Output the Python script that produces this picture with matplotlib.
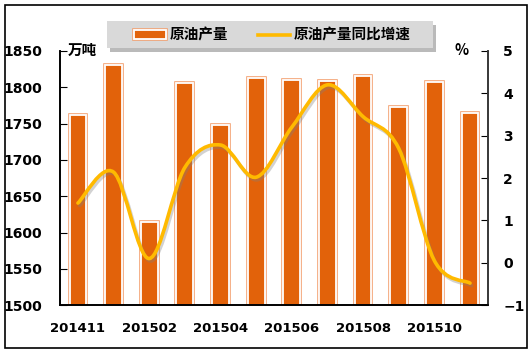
import numpy as np
import matplotlib.pyplot as plt
import matplotlib.patheffects as pe
from matplotlib.path import Path
from matplotlib.patches import PathPatch, Rectangle
from matplotlib.lines import Line2D

plt.rcParams['font.family'] = ['Noto Sans CJK SC', 'DejaVu Sans']

months = ['201411', '201412', '201502', '201503', '201504', '201505',
          '201506', '201507', '201508', '201509', '201510', '201511']
output = [1762, 1831, 1615, 1806, 1748, 1813, 1810, 1809, 1815, 1773, 1807, 1764]
growth = [1.41, 2.14, 0.10, 2.25, 2.78, 2.02, 3.20, 4.20, 3.45, 2.70, 0.05, -0.48]

bar_color = '#E2620A'
ring_color = '#F3A070'
line_color = '#FFBA00'

fig = plt.figure(figsize=(5.32, 3.54), dpi=100)
ax = fig.add_axes([0.113, 0.138, 0.804, 0.718])
ax2 = ax.twinx()

x = np.arange(len(months))
bar_fx = [pe.Stroke(linewidth=2.6, foreground=ring_color), pe.Normal()]
bars = ax.bar(x, output, width=0.47, bottom=0, color=bar_color,
              edgecolor='white', linewidth=1.3, zorder=2)
for b in bars:
    b.set_path_effects(bar_fx)

ax.set_xlim(-0.5, len(months) - 0.5)
ax.set_ylim(1500, 1850)
ax.set_yticks(range(1500, 1851, 50))
ax.set_xticks(x[::2])
ax.set_xticklabels(months[::2])
ax.tick_params(axis='x', length=0, pad=12)
ax.tick_params(axis='y', direction='in', length=5, pad=13)

# smooth growth line (Excel style), cubic Bezier through the points
pts = np.column_stack([x, growth]).astype(float)
ext = np.vstack([pts[0], pts, pts[-1]])
verts = [tuple(pts[0])]
codes = [Path.MOVETO]
for i in range(len(pts) - 1):
    p0, p1, p2, p3 = ext[i], ext[i + 1], ext[i + 2], ext[i + 3]
    c1 = p1 + (p2 - p0) / 6
    c2 = p2 - (p3 - p1) / 6
    verts += [tuple(c1), tuple(c2), tuple(p2)]
    codes += [Path.CURVE4] * 3
curve = PathPatch(Path(verts, codes), facecolor='none', edgecolor=line_color,
                  linewidth=2.6, capstyle='round', zorder=3,
                  path_effects=[pe.SimpleLineShadow(offset=(1.2, -1.8), shadow_color='gray', alpha=0.35),
                                pe.Normal()])
ax2.add_patch(curve)
ax2.set_ylim(-1, 5)
ax2.set_yticks(range(-1, 6))
ax2.tick_params(axis='y', direction='in', length=5, pad=11)

for a in (ax, ax2):
    a.spines['top'].set_visible(False)
    for s in ('left', 'right', 'bottom'):
        a.spines[s].set_linewidth(1.2)
    for lab in a.get_yticklabels():
        lab.set_fontweight('bold')
        lab.set_fontsize(10)
        lab.set_family(['DejaVu Sans'])
for lab in ax.get_xticklabels():
    lab.set_fontweight('bold')
    lab.set_fontsize(9.5)
    lab.set_family(['DejaVu Sans'])
ax2.spines['right'].set_color('#404040')

fig.text(0.128, 0.858, '万吨', fontsize=10.5, fontweight='bold', ha='left', va='center')
fig.text(0.868, 0.858, '%', fontsize=10.5, fontweight='bold', ha='center', va='center')

# legend: grey box with drop shadow, legend entries on top
box_x, box_y, box_w, box_h = 107 / 532, 1 - 48 / 354, 326 / 532, 27 / 354
fig.patches.append(Rectangle((box_x + 0.006, box_y - 0.01), box_w, box_h,
                             transform=fig.transFigure, facecolor='#8C8C8C',
                             edgecolor='none', alpha=0.6, zorder=5))
fig.patches.append(Rectangle((box_x, box_y), box_w, box_h, transform=fig.transFigure,
                             facecolor='#D9D9D9', edgecolor='none', zorder=6))
bar_handle = Rectangle((0, 0), 1, 1, facecolor=bar_color, edgecolor='white', linewidth=1.3,
                       path_effects=[pe.Stroke(linewidth=2.6, foreground=ring_color), pe.Normal()])
line_handle = Line2D([], [], color=line_color, linewidth=2.6)
leg = fig.legend([bar_handle, line_handle], ['原油产量', '原油产量同比增速'],
                 loc='center', bbox_to_anchor=(0.512, 0.902), ncol=2, frameon=False,
                 prop={'weight': 'bold', 'size': 10.5}, handlelength=2.2,
                 handleheight=0.6, columnspacing=2.0, handletextpad=0.25,
                 borderaxespad=0)
leg.set_zorder(7)

fig.patches.append(Rectangle((0.009, 0.017), 0.981, 0.969, transform=fig.transFigure,
                             fill=False, edgecolor='black', linewidth=1.2))

fig.savefig('out.png', dpi=100)
